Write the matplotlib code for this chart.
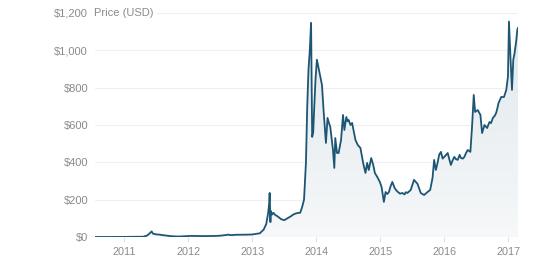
import matplotlib
matplotlib.use("Agg")
import matplotlib.pyplot as plt
import numpy as np
from matplotlib.colors import LinearSegmentedColormap
from matplotlib.ticker import FuncFormatter
import matplotlib.transforms as mtransforms

# decimal-year dates and price (USD)
years = [
    2010.545, 2010.8, 2011.0, 2011.1, 2011.3, 2011.36, 2011.40, 2011.43, 2011.45,
    2011.50, 2011.55, 2011.60, 2011.65, 2011.75, 2011.85, 2011.95, 2012.05, 2012.2,
    2012.4, 2012.5, 2012.6, 2012.63, 2012.66, 2012.75, 2012.9, 2013.0, 2013.12,
    2013.18, 2013.22, 2013.25, 2013.265, 2013.273, 2013.285, 2013.29, 2013.31,
    2013.33, 2013.36, 2013.40, 2013.45, 2013.50, 2013.55, 2013.60, 2013.65, 2013.70,
    2013.75, 2013.78, 2013.81, 2013.84, 2013.86, 2013.88, 2013.90, 2013.92, 2013.93,
    2013.937, 2013.953, 2013.97, 2013.99, 2014.011, 2014.04, 2014.063, 2014.09,
    2014.105, 2014.115, 2014.152, 2014.177, 2014.20, 2014.22, 2014.262, 2014.283, 2014.298,
    2014.325, 2014.35, 2014.388, 2014.419, 2014.44, 2014.471, 2014.49, 2014.507, 2014.535, 2014.561,
    2014.59, 2014.613, 2014.649, 2014.691, 2014.733, 2014.77, 2014.796, 2014.821, 2014.859,
    2014.891, 2014.916, 2014.953, 2014.994, 2015.021, 2015.057, 2015.084, 2015.11, 2015.136,
    2015.16, 2015.189, 2015.225, 2015.25, 2015.277, 2015.31, 2015.346, 2015.38, 2015.40,
    2015.425, 2015.476, 2015.528, 2015.582,
    2015.633, 2015.685, 2015.739, 2015.78, 2015.817, 2015.842, 2015.869, 2015.896,
    2015.92, 2015.948, 2015.975, 2016.0, 2016.054, 2016.08, 2016.104, 2016.13, 2016.157,
    2016.18, 2016.21, 2016.24, 2016.262, 2016.29, 2016.314, 2016.34,
    2016.367, 2016.408, 2016.434, 2016.461, 2016.482, 2016.524, 2016.565, 2016.591,
    2016.628, 2016.67, 2016.706, 2016.73, 2016.76, 2016.79, 2016.811, 2016.83, 2016.848,
    2016.87, 2016.89, 2016.933, 2016.969, 2016.995, 2017.011, 2017.036, 2017.058,
    2017.078, 2017.099, 2017.126, 2017.141, 2017.152,
]
prices = [
    0.07, 0.1, 0.3, 0.9, 1.5, 8, 20, 30, 18,
    14, 13, 10, 8, 4, 2.5, 4, 6, 5,
    5.5, 7, 11, 13, 10, 12, 12.5, 13.5, 20,
    40, 70, 130, 180, 236, 80, 140, 120,
    130, 118, 110, 96, 90, 100, 110, 122, 128,
    130, 160, 200, 400, 700, 900, 1000, 1147, 800,
    536, 560, 700, 850, 950, 900, 858, 815,
    734, 680, 504, 638, 610, 590, 466, 370, 530,
    450, 450, 520, 654, 573, 643, 620, 627, 600, 611,
    560, 520, 493, 477, 397, 343, 397, 359, 423,
    386, 343, 322, 295, 268, 188, 241, 230, 241,
    270, 295, 263, 250, 241, 232, 236, 228, 240,
    236, 252, 306, 285,
    236, 225, 241, 252, 316, 413, 359, 397,
    440, 456, 420, 429, 450, 415, 386, 410, 429,
    418, 413, 440, 423, 420, 429, 450,
    466, 456, 590, 761, 670, 680, 654, 557,
    600, 584, 616, 610, 638, 650, 665, 690, 718,
    735, 750, 750, 788, 859, 1154, 949, 788,
    949, 986, 1056, 1110, 1120,
]

y_ticks = [0, 200, 400, 600, 800, 1000, 1200]
x_ticks = [2011, 2012, 2013, 2014, 2015, 2016, 2017]
x_labels = ["2011", "2012", "2013", "2014", "2015", "2016", "2017"]

plt.rcParams['font.family'] = ['Liberation Sans', 'DejaVu Sans']

fig = plt.figure(figsize=(5.6, 2.74), dpi=100)
ax = fig.add_axes([95/560, 1 - 237/274, (518 - 95)/560, (237 - 13)/274])

x = np.array(years)
y = np.array(prices)

ax.set_xlim(x.min(), x.max())
ax.set_ylim(0, 1200)

# gradient fill under the line
fill = ax.fill_between(x, y, 0, facecolor='none', edgecolor='none')
cmap = LinearSegmentedColormap.from_list("g", ["#f6f8f9", "#dfe7ec"])
grad = np.linspace(0, 1, 256).reshape(-1, 1)
img = ax.imshow(grad, extent=[x.min(), x.max(), 0, 1200], aspect='auto',
                origin='lower', cmap=cmap, zorder=1)
img.set_clip_path(fill.get_paths()[0], transform=ax.transData)

ax.plot(x, y, color='#1d5674', lw=1.3, zorder=3, solid_joinstyle='round')

for s in ax.spines.values():
    s.set_visible(False)

ax.set_yticks(y_ticks)
ax.yaxis.set_major_formatter(FuncFormatter(lambda v, p: "${:,.0f}".format(v)))
ax.set_xticks(x_ticks)
ax.set_xticklabels(x_labels)
ax.grid(axis='y', color='#efefef', lw=0.8, zorder=0)
ax.set_axisbelow(True)
ax.tick_params(axis='y', length=0, pad=5, labelsize=8, labelcolor='#8a8a8a')
ax.tick_params(axis='x', length=3.5, pad=4, labelsize=7.8, labelcolor='#8a8a8a',
               color='#e0e0e0', width=0.8)

offset = mtransforms.ScaledTranslation(-1/100, 0, fig.dpi_scale_trans)
ax.text(0.0, 1200, "Price (USD)", transform=ax.get_yaxis_transform() + offset,
        ha='left', va='center', fontsize=8, color='#8a8a8a',
        bbox=dict(facecolor='white', edgecolor='none', pad=2.5), zorder=4)

fig.savefig("out.png", dpi=100, facecolor='white')
